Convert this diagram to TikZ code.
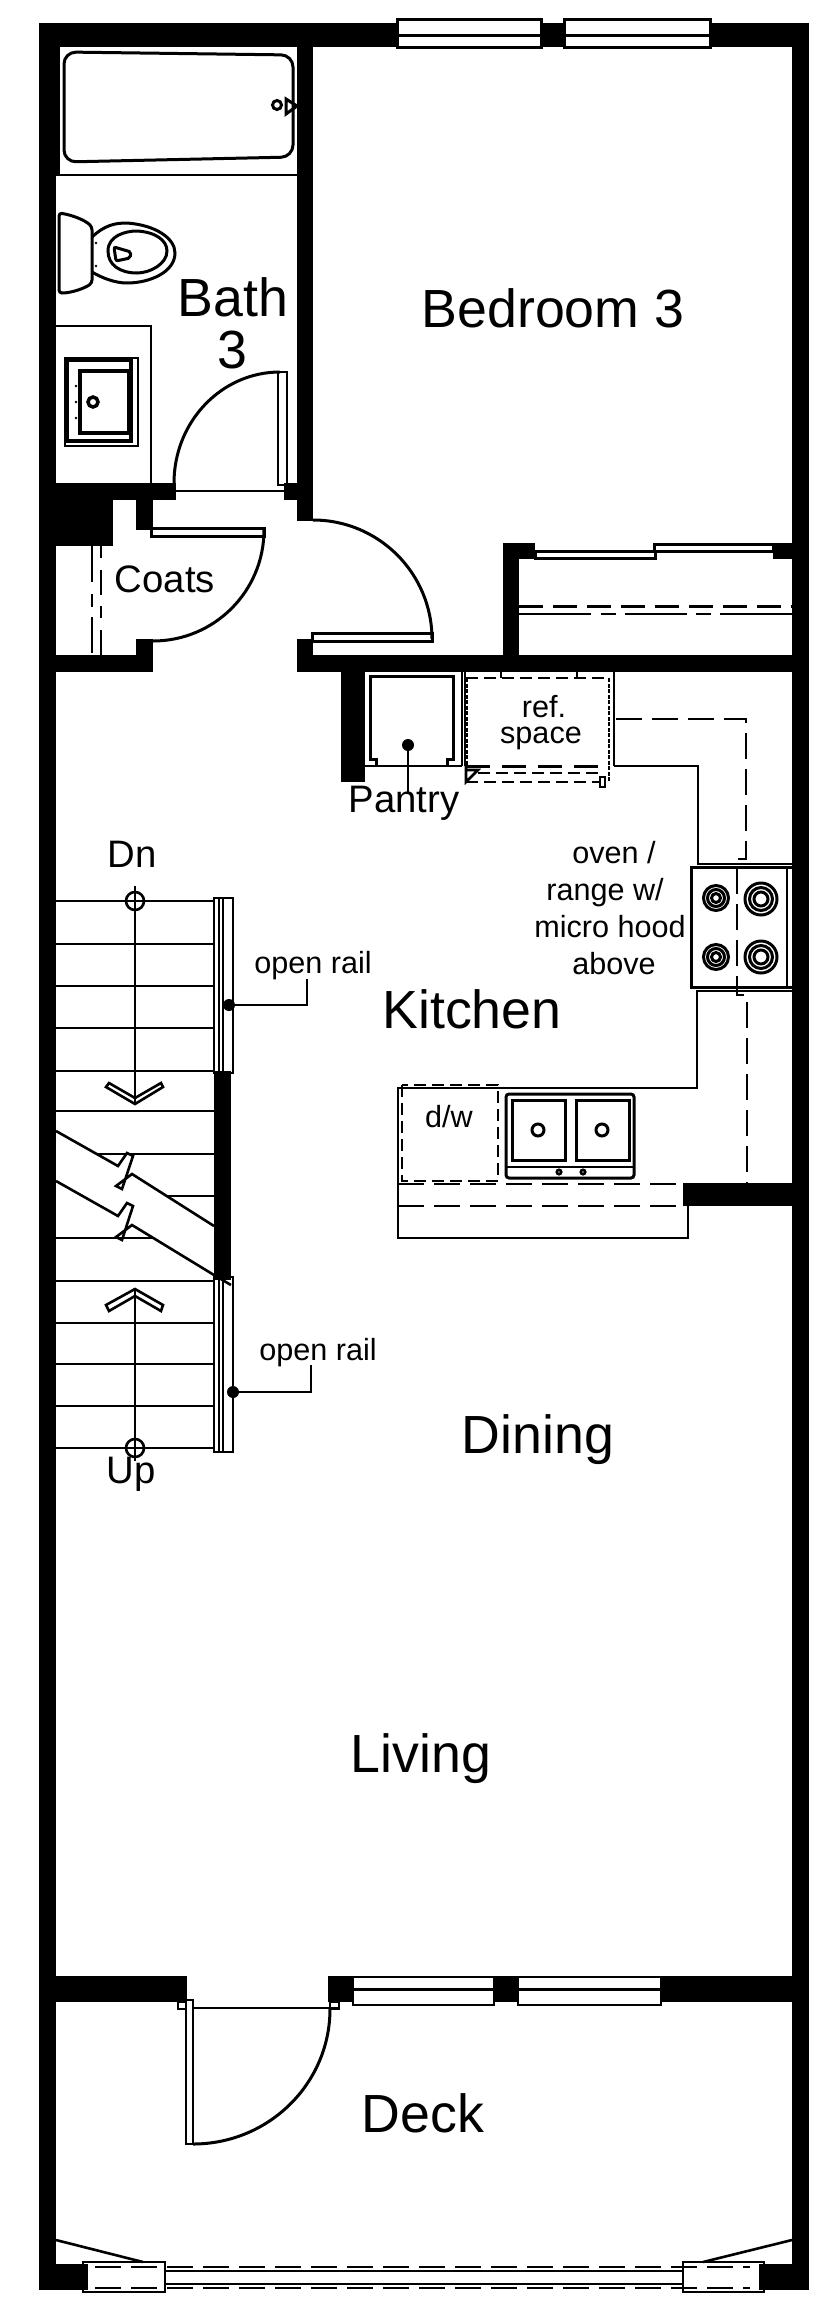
\documentclass[tikz,border=0pt]{standalone}
\usepackage{fontspec}
\setmainfont{Liberation Sans}
\tikzset{
  room/.style={anchor=base,inner sep=0pt,font=\fontsize{53.7}{54}\selectfont},
  midlabel/.style={anchor=base,inner sep=0pt,font=\fontsize{38.3}{38}\selectfont},
  smalllabel/.style={anchor=base,inner sep=0pt,font=\fontsize{30.6}{31}\selectfont},
  dot/.style={circle,fill=black,inner sep=0pt,minimum size=12pt},
  plan/.style={line width=2.6pt},
  heavy/.style={line width=3pt},
  hidden/.style={line width=2.8pt,dash pattern=on 26pt off 10pt},
  shortdash/.style={line width=2.8pt,dash pattern=on 12pt off 6pt},
}
\begin{document}
\begin{tikzpicture}[x=1pt,y=-1pt]
  \useasboundingbox (0,0) rectangle (840,2305);
  % walls
  \fill (39,23) rectangle (56,2290);
  \fill (56,47) rectangle (60,175);
  \fill (792,23) rectangle (809,2290);
  \fill (39,23) rectangle (397,47);
  \fill (541,23) rectangle (564,47);
  \fill (710,23) rectangle (809,47);
  \fill (297,47) rectangle (313,521);
  \fill (56,483) rectangle (176,500);
  \fill (284,483) rectangle (297,500);
  \fill (56,500) rectangle (113,546);
  \fill (136,500) rectangle (153,530);
  \fill (56,655) rectangle (153,672);
  \fill (136,639) rectangle (153,655);
  \fill (297,639) rectangle (313,655);
  \fill (297,655) rectangle (792,672);
  \fill (341,672) rectangle (365,782);
  \fill (503,543) rectangle (519,655);
  \fill (503,543) rectangle (535,559);
  \fill (773,543) rectangle (792,559);
  \fill (683,1183) rectangle (792,1206);
  \fill (214,1071) rectangle (231,1280);
  \fill (56,1976) rectangle (187,2002);
  \fill (328,1976) rectangle (353,2002);
  \fill (495,1976) rectangle (518,2002);
  \fill (661,1976) rectangle (792,2002);
  \fill (39,2264) rectangle (88,2290);
  \fill (759,2264) rectangle (809,2290);

  % windows
  \draw[heavy] (397,19) rectangle (541,47);
  \draw[heavy] (564,19) rectangle (710,47);
  \draw[heavy] (397,35) -- (541,35);
  \draw[heavy] (564,35) -- (710,35);
  \draw[plan] (353,1977) rectangle (494,2005);
  \draw[plan] (518,1977) rectangle (661,2005);
  \draw[heavy] (353,1989) -- (494,1989);
  \draw[heavy] (518,1989) -- (661,1989);

  % tub
  \draw[heavy,rounded corners=12pt] (64,52) -- (293,55) -- (293,157) -- (64,162) -- cycle;
  \draw[heavy] (277,105) circle (4.5);
  \draw[heavy] (286,99) -- (297,106) -- (286,114) -- cycle;
  \draw[plan] (56,175) -- (297,175);

  % toilet
  \draw[heavy,rounded corners=3pt] (59,213) .. controls (72,215) and (85,220) .. (92,227) -- (92,283) .. controls (85,288) and (72,293) .. (59,293) -- cycle;
  \draw[heavy] (92,237) .. controls (105,225) and (115,223) .. (127,223) .. controls (155,225) and (175,238) .. (175,253) .. controls (175,272) and (150,283) .. (127,283) .. controls (115,283) and (102,278) .. (92,272);
  \draw[heavy] (108,251) .. controls (108,236) and (125,231) .. (137,231) .. controls (155,232) and (167,240) .. (167,251) .. controls (167,264) and (150,273) .. (137,273) .. controls (120,273) and (108,265) .. (108,251) -- cycle;
  \draw[heavy,rounded corners=2pt] (114,247) -- (131,252) -- (130,258) -- (116,261) -- cycle;
  \fill (96,243) circle (1.3);
  \fill (96,266) circle (1.3);

  % vanity
  \draw[plan] (56,326) -- (151,326) -- (151,483);
  \draw[plan] (65,358) rectangle (138,446);
  \draw[line width=4pt] (67,360) rectangle (131,441);
  \draw[line width=4pt] (80,371) rectangle (129,433);
  \draw[line width=3.5pt] (93,402) circle (5);
  \fill (76,386) circle (1.3);
  \fill (76,402) circle (1.3);
  \fill (76,418) circle (1.3);

  % doors
  \draw[plan] (278,372) rectangle (287,485);
  \draw[heavy] (174,483) arc[x radius=106,y radius=111,start angle=180,end angle=270];
  \draw[plan] (176,491) -- (284,491);
  \draw[heavy] (151,528) rectangle (264,536);
  \draw[heavy] (264,530) arc[radius=111,start angle=0,end angle=90];
  \draw[heavy] (312,633) rectangle (432,641);
  \draw[heavy] (313,520) arc[radius=119,start angle=-90,end angle=0];
  \draw[plan] (178,2002) rectangle (186,2009);
  \draw[plan] (330,2002) rectangle (339,2009);
  \draw[plan] (186,2000) rectangle (193,2144);
  \draw[plan] (193,2008) -- (339,2008);
  \draw[heavy] (330,2009) arc[x radius=137,y radius=135,start angle=0,end angle=90];

  % coat and bedroom closets
  \draw[plan,dash pattern=on 36pt off 12pt on 13pt off 10pt] (92,546) -- (92,655);
  \draw[plan,dash pattern=on 12pt off 12pt on 25pt off 11pt] (101,546) -- (101,655);
  \draw[heavy] (535,551) rectangle (655,558);
  \draw[heavy] (654,544) rectangle (773,551);
  \draw[heavy,dash pattern=on 24pt off 10pt] (519,606) -- (792,606);
  \draw[plan,dash pattern=on 72pt off 10pt on 15pt off 9pt on 62pt off 9pt on 15pt off 9pt] (519,614) -- (792,614);

  % pantry
  \draw[heavy] (376,766) -- (376,759) -- (370,759) -- (370,676) -- (453,676) -- (453,759) -- (447,759) -- (447,766);
  \draw[plan] (365,766) -- (462,766);
  \draw[plan] (462,672) -- (462,766);
  \draw[plan] (465,672) -- (465,766);

  % ref space
  \draw[plan] (614,672) -- (614,766);
  \draw[shortdash] (466,678) -- (609,678);
  \draw[line width=2.8pt,dash pattern=on 4pt off 1.5pt] (467,678) -- (467,766);
  \draw[line width=2.8pt,dash pattern=on 4pt off 1.5pt] (609,678) -- (609,782);
  \draw[plan] (501,672) -- (501,678);
  \draw[plan] (577,672) -- (577,678);
  \draw[heavy,dash pattern=on 24pt off 12pt] (466,766) -- (609,766);
  \draw[shortdash] (478,773) -- (600,773);
  \draw[shortdash] (466,782) -- (600,782);
  \draw[plan] (466,766) -- (466,782) -- (478,770) -- (466,770);
  \draw[plan] (600,777) rectangle (605,787);

  % counters
  \draw[plan] (614,766) -- (698,766) -- (698,864) -- (792,864);
  \draw[plan] (792,991) -- (697,991) -- (697,1088) -- (398,1088) -- (398,1238) -- (688,1238) -- (688,1206);
  \draw[hidden] (616,719) -- (746,719) -- (746,859) -- (737,859) -- (737,995) -- (747,995) -- (747,1183);
  \draw[hidden] (398,1184) -- (683,1184);
  \draw[hidden] (398,1206) -- (683,1206);

  % range
  \draw[heavy] (792,867) -- (691,867) -- (691,987) -- (792,987);
  \draw[plan] (787,867) -- (787,987);
  \draw[heavy] (716,898) circle (12.5);
  \draw[heavy] (716,898) circle (8.5);
  \draw[heavy] (716,898) circle (4.5);
  \draw[heavy] (716,957) circle (12.5);
  \draw[heavy] (716,957) circle (8.5);
  \draw[heavy] (716,957) circle (4.5);
  \draw[heavy] (761,899) circle (16);
  \draw[heavy] (761,899) circle (11.5);
  \draw[heavy] (761,899) circle (7);
  \draw[heavy] (761,957) circle (16);
  \draw[heavy] (761,957) circle (11.5);
  \draw[heavy] (761,957) circle (7);

  % sink and d/w
  \draw[shortdash] (402,1085) rectangle (498,1181);
  \draw[heavy,rounded corners=3pt] (506,1094) rectangle (634,1178);
  \draw[plan] (506,1167) -- (634,1167);
  \draw[heavy] (512,1100) rectangle (565,1160);
  \draw[heavy] (576,1100) rectangle (629,1160);
  \draw[heavy] (538,1130) circle (6);
  \draw[heavy] (602,1130) circle (6);
  \draw[plan] (559,1172) circle (2.2);
  \draw[plan] (583,1172) circle (2.2);

  % stairs
  \draw[plan] (56,901) -- (214,901);
  \draw[plan] (56,944) -- (214,944);
  \draw[plan] (56,986) -- (214,986);
  \draw[plan] (56,1028) -- (214,1028);
  \draw[plan] (56,1071) -- (214,1071);
  \draw[plan] (56,1111) -- (214,1111);
  \draw[plan] (97,1154) -- (214,1154);
  \draw[plan] (166,1196) -- (214,1196);
  \draw[plan] (56,1238) -- (153,1238);
  \draw[plan] (56,1281) -- (214,1281);
  \draw[plan] (56,1323) -- (214,1323);
  \draw[plan] (56,1364) -- (214,1364);
  \draw[plan] (56,1406) -- (214,1406);
  \draw[plan] (56,1448) -- (214,1448);
  \draw[plan] (214,898) rectangle (233,1073);
  \draw[plan] (219,898) -- (219,1073);
  \draw[plan] (223,898) -- (223,1073);
  \draw[plan] (214,1277) rectangle (233,1452);
  \draw[plan] (219,1277) -- (219,1452);
  \draw[plan] (223,1277) -- (223,1452);
  \draw[plan] (56,1131) -- (118,1166) -- (127,1153) -- (133,1156) -- (122,1189) -- (116,1186) -- (132,1174) -- (214,1226);
  \draw[plan] (56,1181) -- (118,1216) -- (127,1203) -- (133,1206) -- (122,1240) -- (116,1237) -- (132,1225) -- (214,1275) -- (231,1285);
  \draw[plan] (135,886) -- (135,1103);
  \draw[plan] (135,1289) -- (135,1461);
  \draw[plan] (135,901) circle (9);
  \draw[plan] (135,1448) circle (9);
  \draw[plan] (106,1087) -- (135,1104) -- (163,1087) -- (161,1083) -- (135,1098) -- (109,1083) -- cycle;
  \draw[plan] (106,1305) -- (135,1289) -- (163,1305) -- (161,1311) -- (135,1296) -- (109,1311) -- cycle;

  % deck slider
  \draw[plan] (83,2262) rectangle (165,2292);
  \draw[plan] (683,2262) rectangle (764,2292);
  \draw[plan] (165,2271) -- (683,2271);
  \draw[plan] (165,2284) -- (683,2284);
  \draw[hidden] (95,2267) -- (750,2267);
  \draw[hidden] (95,2288) -- (750,2288);
  \draw[plan] (56,2240) -- (143,2262);
  \draw[plan] (703,2262) -- (792,2240);

  % labels
  \node[room] (bed) at (553,327) {Bedroom 3};
  \node[room] (bath) at (233,316) {Bath};
  \node[room] (bathnum) at (232,368) {3};
  \node[midlabel] (coats) at (165,592) {Coats};
  \node[midlabel] (pantry) at (404,812) {Pantry};
  \node[smalllabel] (ref) at (544,717) {ref.};
  \node[smalllabel] (space) at (541,743) {space};
  \node[smalllabel] (ovenA) at (614,863) {oven /};
  \node[smalllabel] (ovenB) at (605,900) {range w/};
  \node[smalllabel] (ovenC) at (610,937) {micro hood};
  \node[smalllabel] (ovenD) at (614,974) {above};
  \node[room] (kitchen) at (472,1028) {Kitchen};
  \node[smalllabel] (dw) at (449,1127) {d/w};
  \node[midlabel] (dn) at (132,867) {Dn};
  \node[midlabel] (up) at (131,1483) {Up};
  \node[smalllabel] (railA) at (313,973) {open rail};
  \node[smalllabel] (railB) at (318,1360) {open rail};
  \node[room] (dining) at (538,1453) {Dining};
  \node[room] (living) at (421,1772) {Living};
  \node[room] (deck) at (423,2132) {Deck};

  % leaders
  \node[dot] (pantrydot) at (408,745) {};
  \coordinate (pantryend) at (408,792);
  \draw[plan] (pantrydot) -- (pantryend);
  \node[dot] (raildotA) at (229,1005) {};
  \coordinate (railendA) at (307,979);
  \draw[plan] (raildotA) -| (railendA);
  \node[dot] (raildotB) at (233,1392) {};
  \coordinate (railendB) at (311,1365);
  \draw[plan] (raildotB) -| (railendB);
\end{tikzpicture}
\end{document}
